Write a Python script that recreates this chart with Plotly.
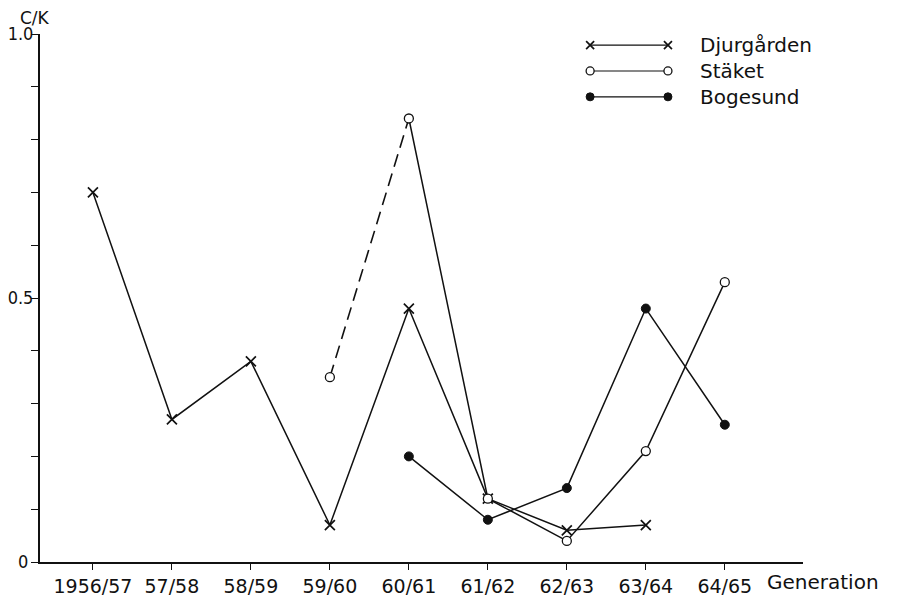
import plotly.graph_objects as go

categories = ["1956/57", "57/58", "58/59", "59/60", "60/61", "61/62", "62/63", "63/64", "64/65"]
djurgarden = [0.70, 0.27, 0.38, 0.07, 0.48, 0.12, 0.06, 0.07, None]
staket = [None, None, None, 0.35, 0.84, 0.12, 0.04, 0.21, 0.53]
bogesund = [None, None, None, None, 0.20, 0.08, 0.14, 0.48, 0.26]
series_names = ["Djurgården", "Stäket", "Bogesund"]
y_tick_vals = [0, 0.5, 1.0]
y_tick_text = ["0\u00a0", "0.5", "1.0"]

FONT = "DejaVu Sans, sans-serif"
FONT_C = "DejaVu Sans Condensed, DejaVu Sans, sans-serif"
BLACK = "#111111"
FS = 20

def pts(vals):
    xs, ys = [], []
    for c, v in zip(categories, vals):
        if v is not None:
            xs.append(c)
            ys.append(v)
    return xs, ys

fig = go.Figure()

x_marker = dict(symbol="x-thin", size=10, color=BLACK, line=dict(width=1.7, color=BLACK))
open_marker = dict(symbol="circle", size=9, color="white", line=dict(width=1.3, color=BLACK))
fill_marker = dict(symbol="circle", size=9, color=BLACK, line=dict(width=1, color=BLACK))

# Djurgården
dx, dy = pts(djurgarden)
fig.add_trace(go.Scatter(x=dx, y=dy, mode="lines+markers", line=dict(color=BLACK, width=1.5),
                         marker=x_marker, showlegend=False, cliponaxis=False))

# Stäket: dashed first segment, then solid
sx, sy = pts(staket)
fig.add_trace(go.Scatter(x=sx[:2], y=sy[:2], mode="lines", line=dict(color=BLACK, width=1.6, dash="13px,7px"),
                         showlegend=False, cliponaxis=False))
fig.add_trace(go.Scatter(x=sx[1:], y=sy[1:], mode="lines", line=dict(color=BLACK, width=1.5),
                         showlegend=False, cliponaxis=False))
fig.add_trace(go.Scatter(x=sx, y=sy, mode="markers", marker=open_marker, showlegend=False, cliponaxis=False))

# Bogesund
bx, by = pts(bogesund)
fig.add_trace(go.Scatter(x=bx, y=by, mode="lines+markers", line=dict(color=BLACK, width=1.5),
                         marker=fill_marker, showlegend=False, cliponaxis=False))

# Custom legend on overlay axes (0..1 box over the plot area)
leg_x0, leg_x1, leg_tx = 0.721, 0.823, 0.862
leg_rows = [0.979, 0.930, 0.881]
leg_markers = [dict(x_marker, size=8), dict(open_marker, size=8), dict(fill_marker, size=8)]
for name, yy, mk in zip(series_names, leg_rows, leg_markers):
    fig.add_trace(go.Scatter(x=[leg_x0, leg_x1], y=[yy, yy], xaxis="x2", yaxis="y2",
                             mode="lines+markers", line=dict(color=BLACK, width=1.1),
                             marker=mk, showlegend=False, cliponaxis=False, hoverinfo="skip"))
    fig.add_annotation(x=leg_tx, y=yy, xref="x2", yref="y2", text=name, showarrow=False,
                       xanchor="left", yanchor="middle", font=dict(family=FONT, size=FS, color=BLACK))

fig.add_annotation(x=-0.028, y=1.0, xref="paper", yref="paper", text="C/K", showarrow=False,
                   xanchor="left", yanchor="middle", yshift=16, borderpad=0,
                   font=dict(family=FONT, size=17, color=BLACK))
fig.add_annotation(x=1.0, y=0, xref="paper", yref="paper", text="Generation", showarrow=False,
                   xanchor="left", yanchor="top", xshift=-38, yshift=-6,
                   font=dict(family=FONT, size=FS, color=BLACK))

# page body has an 8px margin, so the figure is sized/offset to land at the reference pixels
fig.update_layout(
    width=891, height=588,
    margin=dict(l=32, r=96, t=26, b=34, autoexpand=False),
    paper_bgcolor="white", plot_bgcolor="white",
    font=dict(family=FONT, size=FS, color=BLACK),
    xaxis=dict(type="category", categoryorder="array", categoryarray=categories,
               range=[-0.67, 8.99], showgrid=False, zeroline=False, automargin=False,
               showline=True, linecolor=BLACK, linewidth=2,
               ticks="outside", ticklen=6, tickwidth=1.3, tickcolor=BLACK,
               tickfont=dict(family=FONT, size=19, color=BLACK)),
    yaxis=dict(range=[0, 1.0], showgrid=False, zeroline=False, automargin=False,
               showline=True, linecolor=BLACK, linewidth=2,
               tickmode="array", tickvals=y_tick_vals, ticktext=y_tick_text,
               ticks="outside", ticklen=7, tickwidth=1.3, tickcolor=BLACK, ticklabelstandoff=-6,
               minor=dict(dtick=0.1, ticks="outside", ticklen=7, tickwidth=1.3, tickcolor=BLACK, showgrid=False),
               tickfont=dict(family=FONT_C, size=18, color=BLACK)),
    xaxis2=dict(overlaying="x", range=[0, 1], visible=False),
    yaxis2=dict(overlaying="y", range=[0, 1], visible=False),
)

fig.write_html("out.html")
